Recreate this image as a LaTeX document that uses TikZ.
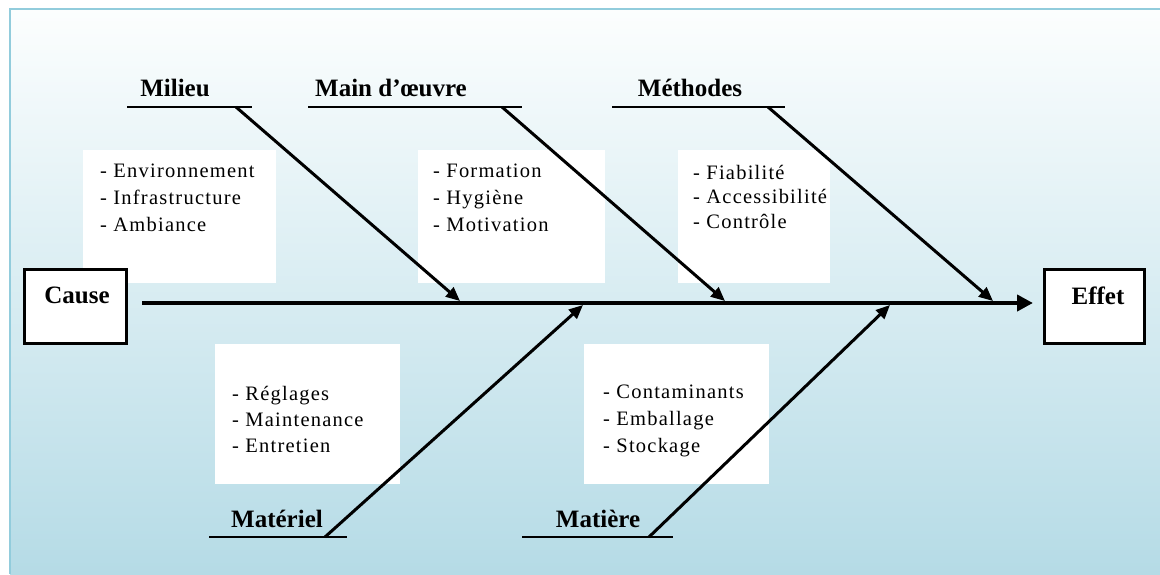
\documentclass[tikz,border=0pt]{standalone}
\usepackage{fontspec}
\setmainfont{Liberation Serif}
\newfontfamily\itemfont[LetterSpace=6]{Liberation Serif}
\usetikzlibrary{arrows.meta}
\definecolor{bgtop}{HTML}{FCFEFE}
\definecolor{bgbot}{HTML}{B5DBE6}
\definecolor{framecol}{HTML}{92CCDC}
\begin{document}
\begin{tikzpicture}[x=1pt,y=-1pt,
  head/.style={font=\bfseries\fontsize{25}{29}\selectfont, inner sep=0, anchor=base},
  item/.style={font=\itemfont\fontsize{20.5}{24}\selectfont, inner sep=0, anchor=base west},
  wbox/.style={fill=white, draw=none, inner sep=0},
  endbox/.style={draw=black, line width=3pt, fill=white, inner sep=0, minimum height=74pt},
  uline/.style={line width=2pt},
  bone/.style={line width=3pt, -{Triangle[length=14pt,width=12pt]}},
  spine/.style={line width=4.5pt, -{Triangle[length=16pt,width=16pt]}}]
\useasboundingbox (0,0) rectangle (1160,574);
\shade[top color=bgtop, bottom color=bgbot] (10,9) rectangle (1160,574);
\draw[framecol, line width=2pt] (9.5,574) -- (9.5,8.5) -- (1160,8.5);

% white boxes
\node[wbox, minimum width=193pt, minimum height=133pt] (b1) at (179.5,216.5) {};
\node[wbox, minimum width=187pt, minimum height=133pt] (b2) at (511.5,216.5) {};
\node[wbox, minimum width=152pt, minimum height=133pt] (b3) at (754,216.5) {};
\node[wbox, minimum width=185pt, minimum height=140pt] (b4) at (307.5,414) {};
\node[wbox, minimum width=185pt, minimum height=140pt] (b5) at (676.5,414) {};

\node[item] (b1a) at (100,177) {- Environnement};
\node[item] (b1b) at (100,204) {- Infrastructure};
\node[item] (b1c) at (100,231) {- Ambiance};
\node[item] (b2a) at (433,177) {- Formation};
\node[item] (b2b) at (433,204) {- Hygiène};
\node[item] (b2c) at (433,231) {- Motivation};
\node[item] (b3a) at (693,179) {- Fiabilité};
\node[item] (b3b) at (693,203) {- Accessibilité};
\node[item] (b3c) at (693,228) {- Contrôle};
\node[item] (b4a) at (232,400) {- Réglages};
\node[item] (b4b) at (232,426) {- Maintenance};
\node[item] (b4c) at (232,452) {- Entretien};
\node[item] (b5a) at (603,398) {- Contaminants};
\node[item] (b5b) at (603,425) {- Emballage};
\node[item] (b5c) at (603,452) {- Stockage};

% end boxes
\node[endbox, minimum width=102pt] (cause) at (75.5,306.5) {};
\node[endbox, minimum width=100pt] (effet) at (1094.5,306.5) {};
\node[head] (causet) at (77,303) {Cause};
\node[head] (effett) at (1098,304) {Effet};

% headings
\node[head] (milieu) at (175,96) {Milieu};
\node[head] (main) at (391,96) {Main d’œuvre};
\node[head] (meth) at (690,96) {Méthodes};
\node[head] (mat) at (277,527) {Matériel};
\node[head] (matiere) at (598,527) {Matière};

% coordinates
\coordinate (u1a) at (127,107); \coordinate (u1b) at (252,107); \coordinate (s1) at (236,107); \coordinate (e1) at (460,301);
\coordinate (u2a) at (308,107); \coordinate (u2b) at (522,107); \coordinate (s2) at (502,107); \coordinate (e2) at (725,301);
\coordinate (u3a) at (612,107); \coordinate (u3b) at (785,107); \coordinate (s3) at (768,107); \coordinate (e3) at (993,301);
\coordinate (u4a) at (209,537); \coordinate (u4b) at (347,537); \coordinate (s4) at (325,537); \coordinate (e4) at (583,305);
\coordinate (u5a) at (522,537); \coordinate (u5b) at (673,537); \coordinate (s5) at (649,537); \coordinate (e5) at (890,305);
\coordinate (sp0) at (142,303); \coordinate (sp1) at (1033,303);

\draw[spine] (sp0) -- (sp1);
\foreach \i in {1,...,5} {
  \draw[uline] (u\i a) -- (u\i b);
  \draw[bone] (s\i) -- (e\i);
}
\end{tikzpicture}
\end{document}
